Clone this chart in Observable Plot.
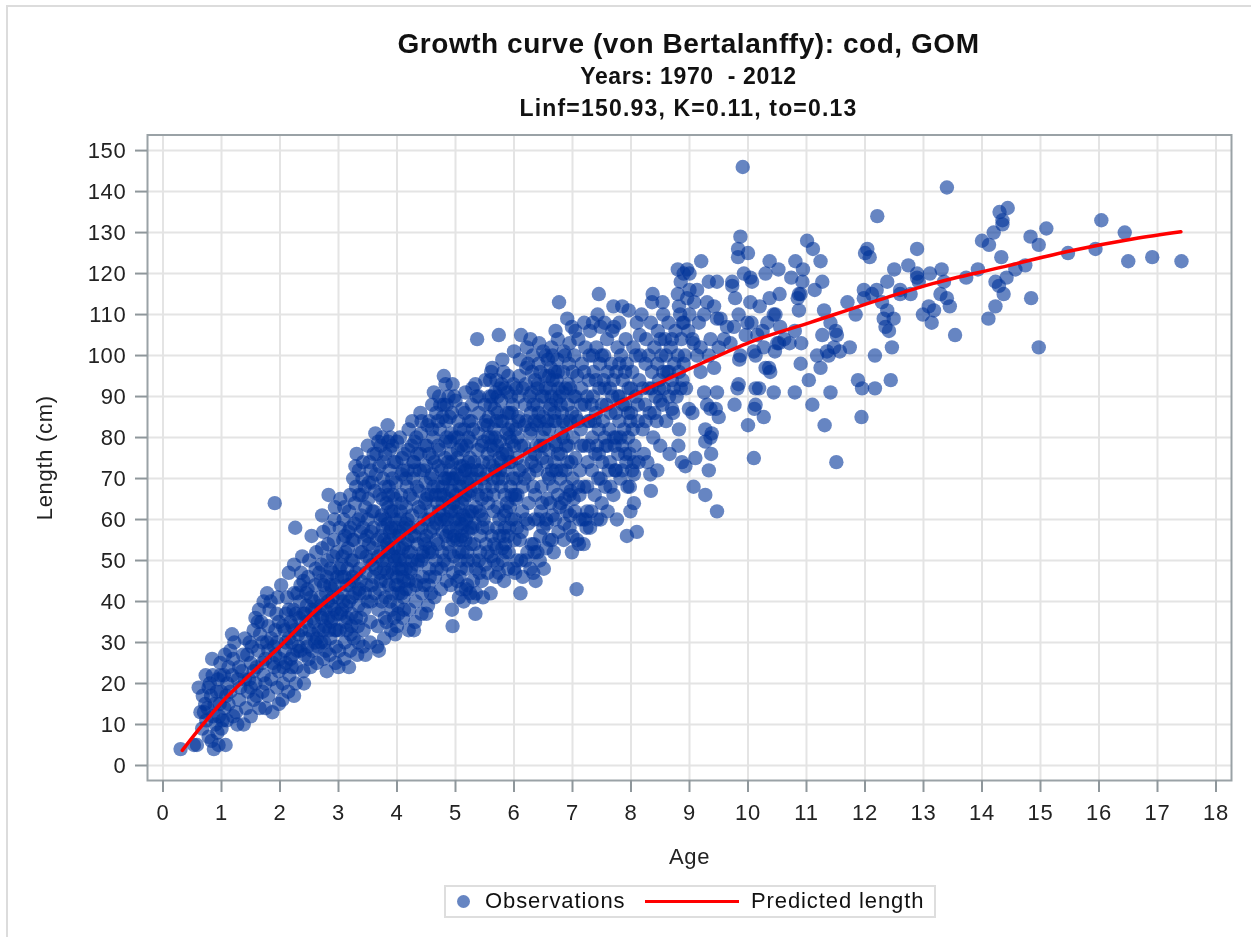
<!DOCTYPE html>
<html><head><meta charset="utf-8">
<script src="https://cdn.jsdelivr.net/npm/d3@7"></script>
<script src="https://cdn.jsdelivr.net/npm/@observablehq/plot@0.6"></script>
<style>
html,body{margin:0;padding:0;background:#fff;}
#page{position:relative;width:1251px;height:937px;overflow:hidden;font-family:"Liberation Sans",Arial,sans-serif;color:#111;filter:blur(.45px);}
#outer{position:absolute;left:6px;top:5px;width:1300px;height:1000px;border:2px solid #dcdcdc;box-sizing:border-box;}
.t{position:absolute;left:0;width:1377px;text-align:center;font-weight:bold;white-space:pre;}
#t1{top:28px;font-size:28px;letter-spacing:.55px;}
#t2{top:63px;font-size:23px;letter-spacing:.63px;}
#t3{top:95px;font-size:23px;letter-spacing:1.18px;}
#chart{position:absolute;left:0;top:124px;}
#legend{position:absolute;left:444px;top:885px;width:492px;height:33px;border:2px solid #dedede;box-sizing:border-box;font-size:22px;letter-spacing:.9px;color:#111;}
#legend span{position:absolute;display:block;}
#lg1{left:11px;top:8px;width:13px;height:13px;border-radius:50%;background:#003399;opacity:.6;}
#lg2{left:39px;top:1px;}
#lg3{left:199px;top:13px;width:94px;height:3px;background:#f00;}
#lg4{left:305px;top:1px;}
</style></head><body>
<div id="page">
<div id="outer"></div>
<div class="t" id="t1">Growth curve (von Bertalanffy): cod, GOM</div>
<div class="t" id="t2">Years: 1970  - 2012</div>
<div class="t" id="t3">Linf=150.93, K=0.11, to=0.13</div>
<div id="chart"></div>
<div id="legend"><span id="lg1"></span><span id="lg2">Observations</span><span id="lg3"></span><span id="lg4">Predicted length</span></div>
</div>
<script>
const ageTicks=[0,1,2,3,4,5,6,7,8,9,10,11,12,13,14,15,16,17,18];
const lengthTicks=[0,10,20,30,40,50,60,70,80,90,100,110,120,130,140,150];
const predictedAge=[0.33,0.64,1.01,1.32,1.98,2.64,3.26,3.6,5.09,6.28,7.48,8.28,9.19,10.04,11.07,12.38,13.17,14.32,15.46,16.6,17.4];
const predictedLength=[3.7,9.3,15.5,19.9,28.8,38.2,45.5,50,66.3,76.8,86.2,91.9,98,103.3,108.1,114.2,117.6,121.5,125.4,128.5,130.2];
// observations: flat age,length pairs
const obsAge0=[0.3,4,0.53,5,0.58,5,0.87,4,1.07,5,0.95,5,0.93,8,0.78,7,0.83,6,0.9,10,0.67,9,0.64,13,0.7,13,0.74,11,0.61,19,0.68,17,0.73,22,0.8,20,0.84,26,0.98,25,0.88,15,0.92,18,0.96,12,0.98,22,0.72,15,0.78,19,0.85,22,0.94,21,0.86,12,1.0,9,0.97,15,0.99,18,0.76,14,0.82,17];
const obsAge1=[1.02,11,1.05,14,1.08,17,1.1,20,1.12,24,1.15,28,1.18,32,1.04,22,1.06,27,1.09,11,1.12,15,1.15,18,1.18,22,1.2,26,1.22,30,1.25,13,1.27,10,1.3,16,1.32,19,1.35,23,1.37,27,1.4,31,1.38,10,1.42,14,1.45,18,1.47,21,1.5,25,1.52,29,1.55,33,1.5,12,1.55,16,1.58,20,1.6,24,1.63,28,1.64,38,1.66,32,1.68,35,1.65,14,1.7,18,1.72,22,1.75,14,1.75,26,1.78,30,1.78,42,1.8,34,1.82,38,1.8,17,1.85,21,1.87,13,1.88,25,1.9,29,1.91,64,1.92,33,1.94,37,1.96,41,1.95,19,1.98,15,1.98,23,1.2,12,1.28,21,1.48,30,1.62,35,1.72,40,1.84,40,1.92,27,1.7,30,1.58,36,1.44,27];
const obsAge2=[2.02,44,2.04,16,2.05,20,2.06,24,2.08,28,2.08,33,2.1,37,2.12,41,2.15,47,2.14,18,2.16,22,2.18,26,2.2,30,2.21,34,2.23,38,2.24,42,2.24,49,2.24,17,2.26,58,2.27,20,2.28,24,2.3,28,2.31,32,2.33,36,2.34,40,2.35,44,2.36,47,2.38,51,2.41,20,2.4,23,2.42,27,2.44,31,2.45,35,2.46,39,2.47,43,2.48,46,2.5,50,2.49,26,2.52,24,2.54,56,2.55,28,2.56,32,2.57,36,2.58,40,2.6,44,2.61,48,2.62,52,2.63,25,2.65,29,2.66,33,2.68,37,2.69,41,2.7,45,2.71,49,2.72,53,2.72,61,2.74,57,2.74,26,2.76,30,2.77,34,2.78,38,2.79,42,2.8,23,2.8,46,2.81,50,2.82,54,2.83,66,2.84,58,2.85,27,2.86,31,2.87,35,2.88,39,2.89,43,2.9,47,2.91,51,2.92,55,2.93,60,2.94,63,2.95,25,2.96,29,2.97,33,2.98,37,2.99,41,2.1,25,2.18,35,2.22,27,2.27,37,2.32,29,2.36,33,2.43,37,2.47,29,2.53,41,2.58,35,2.63,31,2.67,47,2.72,36,2.75,44,2.82,40,2.86,48,2.9,36,2.94,44,2.97,52,2.15,31,2.3,42,2.4,45,2.6,38,2.7,30,2.84,33,2.93,38];
const obsAge3=[3.0,24,3.03,65,3.01,28,3.02,33,3.04,37,3.05,42,3.06,46,3.07,51,3.08,55,3.09,60,3.1,26,3.11,30,3.12,35,3.13,39,3.14,44,3.15,48,3.16,53,3.17,57,3.18,24,3.18,62,3.2,28,3.21,32,3.22,37,3.23,41,3.24,46,3.25,50,3.26,31,3.26,55,3.27,59,3.28,64,3.29,73,3.31,76,3.3,68,3.32,27,3.33,34,3.34,39,3.35,43,3.36,48,3.37,52,3.38,57,3.39,61,3.4,66,3.41,70,3.42,29,3.43,33,3.44,38,3.45,42,3.46,27,3.47,47,3.48,51,3.49,56,3.5,60,3.51,65,3.52,69,3.53,74,3.54,30,3.55,35,3.56,40,3.57,44,3.58,49,3.59,53,3.6,58,3.61,62,3.62,67,3.63,81,3.64,71,3.65,76,3.66,29,3.67,34,3.68,38,3.69,28,3.7,43,3.71,47,3.72,78,3.72,52,3.73,56,3.74,61,3.75,65,3.76,70,3.77,74,3.78,31,3.79,36,3.8,41,3.81,45,3.82,50,3.83,54,3.84,83,3.84,59,3.85,63,3.86,68,3.87,72,3.88,77,3.89,80,3.9,33,3.91,38,3.92,42,3.93,47,3.94,51,3.95,56,3.96,60,3.97,32,3.97,65,3.98,69,3.99,74,3.05,49,3.12,52,3.18,44,3.24,55,3.3,47,3.36,42,3.42,58,3.48,44,3.54,50,3.6,46,3.66,55,3.72,60,3.78,48,3.84,53,3.9,58,3.96,50,3.08,40,3.15,36,3.22,50,3.28,42,3.34,60,3.4,52,3.46,63,3.52,54,3.58,62,3.64,48,3.7,66,3.76,58,3.82,64,3.88,55,3.94,62,3.02,58,3.11,56,3.2,58,3.38,45,3.5,40,3.62,42,3.74,40,3.86,44,3.98,44,3.44,55,3.56,57,3.68,51,3.8,68,3.92,70];
const obsAge4=[4.0,79,4.0,34,4.01,39,4.02,44,4.03,48,4.04,53,4.05,57,4.06,62,4.07,66,4.08,71,4.09,75,4.1,36,4.11,41,4.12,45,4.13,50,4.14,54,4.15,59,4.16,63,4.17,68,4.18,72,4.19,77,4.2,33,4.21,38,4.22,43,4.23,47,4.24,52,4.25,56,4.26,84,4.26,61,4.27,65,4.28,70,4.29,33,4.29,74,4.3,79,4.31,35,4.32,40,4.33,45,4.34,49,4.35,54,4.36,58,4.37,63,4.38,67,4.39,72,4.4,86,4.4,76,4.41,81,4.42,37,4.43,42,4.44,46,4.45,51,4.46,55,4.47,60,4.48,64,4.49,69,4.5,37,4.5,73,4.51,78,4.52,83,4.53,39,4.54,44,4.55,48,4.56,53,4.57,57,4.58,62,4.59,66,4.6,71,4.61,75,4.62,80,4.63,91,4.64,41,4.65,46,4.66,50,4.67,55,4.68,59,4.69,64,4.7,68,4.71,73,4.72,77,4.73,82,4.74,88,4.75,43,4.76,48,4.77,52,4.78,57,4.79,61,4.8,95,4.8,66,4.81,70,4.82,75,4.83,93,4.83,79,4.84,84,4.85,45,4.86,49,4.87,54,4.88,58,4.89,63,4.9,67,4.91,72,4.92,76,4.93,81,4.94,38,4.94,86,4.95,34,4.96,47,4.97,51,4.98,56,4.99,60,4.05,50,4.12,58,4.18,60,4.24,48,4.3,56,4.36,50,4.42,58,4.48,54,4.54,60,4.6,52,4.66,66,4.72,62,4.78,68,4.84,56,4.9,52,4.96,64,4.08,64,4.15,70,4.22,66,4.28,74,4.34,68,4.4,62,4.46,72,4.52,66,4.58,70,4.64,74,4.7,78,4.76,72,4.82,60,4.88,70,4.94,74,4.98,80,4.03,42,4.1,46,4.2,52,4.32,44,4.44,52,4.56,46,4.68,48,4.8,50,4.92,44,4.85,88,4.78,85,4.7,84,4.6,82,4.98,90,4.75,60,4.55,76,4.35,76];
const obsAge5=[5.0,89,5.0,62,5.01,66,5.02,71,5.03,75,5.04,80,5.05,84,5.06,41,5.07,46,5.08,50,5.09,55,5.1,59,5.11,64,5.12,68,5.13,73,5.14,40,5.14,77,5.15,82,5.16,86,5.17,91,5.18,43,5.19,48,5.2,52,5.21,57,5.22,61,5.23,66,5.24,70,5.25,75,5.26,79,5.27,84,5.28,88,5.29,92,5.3,45,5.31,50,5.32,54,5.33,59,5.34,37,5.34,93,5.35,63,5.36,68,5.37,104,5.37,72,5.38,77,5.39,81,5.4,86,5.41,47,5.42,52,5.43,56,5.44,61,5.45,65,5.46,70,5.47,41,5.47,74,5.48,79,5.49,83,5.5,88,5.51,49,5.52,54,5.53,66,5.54,71,5.55,76,5.56,80,5.57,85,5.58,90,5.59,94,5.6,42,5.61,51,5.62,56,5.63,97,5.63,68,5.64,73,5.65,77,5.66,82,5.67,87,5.68,91,5.69,46,5.7,53,5.71,58,5.72,63,5.73,70,5.74,105,5.74,47,5.75,75,5.76,79,5.77,84,5.78,89,5.79,93,5.8,99,5.81,50,5.82,56,5.83,45,5.83,61,5.84,66,5.85,72,5.86,77,5.87,81,5.88,86,5.89,91,5.9,95,5.91,52,5.92,58,5.93,63,5.94,68,5.95,74,5.96,79,5.97,83,5.98,88,5.99,93,5.03,55,5.06,60,5.08,70,5.1,78,5.12,52,5.15,65,5.18,72,5.2,44,5.22,80,5.25,58,5.28,62,5.3,82,5.32,74,5.35,48,5.38,66,5.4,90,5.42,72,5.45,78,5.48,60,5.5,68,5.52,84,5.55,47,5.58,74,5.6,88,5.62,80,5.65,66,5.68,72,5.7,84,5.72,90,5.75,60,5.78,68,5.8,76,5.82,96,5.85,54,5.88,64,5.9,82,5.92,74,5.95,90,5.98,70,5.03,45,5.06,52,5.09,48,5.12,58,5.17,55,5.21,50,5.26,54,5.31,70,5.36,90,5.41,62,5.46,58,5.51,94,5.56,64,5.61,96,5.66,54,5.71,78,5.76,92,5.81,70,5.86,62,5.91,86,5.96,66];
const obsAge6=[6.0,101,6.0,48,6.02,47,6.01,55,6.02,60,6.03,65,6.04,70,6.05,75,6.06,80,6.07,85,6.08,90,6.09,95,6.1,99,6.11,42,6.12,105,6.12,50,6.13,57,6.14,62,6.15,68,6.16,73,6.17,78,6.18,83,6.19,88,6.2,93,6.21,97,6.22,102,6.23,52,6.24,59,6.25,64,6.26,71,6.27,76,6.28,104,6.28,81,6.29,86,6.3,91,6.31,96,6.32,100,6.33,47,6.34,54,6.35,60,6.36,66,6.37,45,6.37,73,6.38,78,6.39,83,6.4,88,6.41,93,6.42,98,6.43,103,6.44,50,6.45,56,6.46,62,6.47,68,6.48,75,6.49,80,6.5,85,6.51,48,6.52,90,6.53,95,6.54,100,6.55,53,6.56,59,6.57,65,6.58,71,6.59,77,6.6,82,6.61,87,6.62,92,6.63,97,6.64,102,6.65,55,6.66,61,6.67,68,6.68,52,6.69,74,6.7,79,6.71,106,6.71,84,6.72,89,6.73,94,6.74,99,6.75,104,6.76,57,6.77,113,6.78,63,6.79,70,6.8,76,6.81,81,6.82,86,6.83,91,6.84,96,6.85,101,6.86,59,6.87,65,6.88,72,6.89,78,6.9,83,6.91,109,6.92,88,6.93,93,6.94,98,6.95,103,6.96,61,6.97,67,6.98,74,6.99,52,6.99,107,6.03,82,6.06,66,6.09,72,6.12,78,6.15,92,6.18,70,6.21,84,6.24,98,6.27,90,6.3,74,6.33,68,6.36,94,6.39,72,6.42,86,6.45,96,6.48,64,6.51,78,6.54,92,6.57,84,6.6,70,6.63,88,6.66,100,6.69,86,6.72,72,6.75,96,6.78,90,6.81,72,6.84,84,6.87,100,6.9,68,6.93,78,6.96,92,6.99,86,6.05,58,6.2,60,6.35,52,6.5,58,6.65,72,6.8,64,6.95,58];
const obsAge7=[7.0,56,7.0,70,7.01,80,7.02,90,7.03,100,7.04,62,7.05,75,7.07,43,7.06,85,7.08,95,7.1,104,7.11,54,7.12,66,7.13,72,7.14,82,7.15,92,7.16,98,7.18,60,7.19,54,7.2,78,7.21,88,7.22,102,7.24,58,7.25,68,7.26,74,7.27,84,7.28,94,7.29,100,7.3,106,7.32,62,7.33,72,7.34,80,7.35,90,7.36,96,7.38,66,7.39,76,7.4,86,7.41,102,7.43,110,7.42,60,7.44,70,7.45,115,7.45,82,7.46,92,7.47,98,7.48,107,7.48,60,7.5,64,7.51,74,7.52,84,7.53,94,7.54,100,7.56,68,7.57,78,7.58,88,7.59,104,7.6,62,7.62,72,7.63,82,7.64,92,7.65,68,7.66,98,7.68,106,7.7,66,7.71,107,7.71,80,7.73,72,7.74,72,7.74,86,7.75,96,7.76,60,7.77,102,7.78,76,7.8,84,7.81,90,7.82,70,7.83,100,7.85,112,7.85,78,7.86,94,7.88,82,7.9,88,7.91,104,7.92,74,7.93,56,7.93,98,7.95,80,7.96,111,7.96,92,7.98,68,7.99,62,7.99,84];
const obsAge8=[8.02,72,8.05,74,8.13,74,8.05,71,8.05,64,8.0,86,8.02,96,8.04,102,8.06,78,8.08,90,8.1,108,8.1,57,8.12,84,8.14,94,8.16,100,8.18,110,8.2,82,8.22,76,8.24,88,8.25,98,8.26,104,8.28,74,8.3,92,8.32,86,8.33,71,8.34,67,8.34,108,8.36,96,8.38,80,8.37,115,8.36,113,8.4,102,8.42,90,8.44,84,8.45,72,8.46,106,8.48,94,8.5,78,8.52,100,8.54,113,8.54,88,8.55,110,8.56,92,8.58,104,8.6,84,8.62,96,8.64,108,8.65,90,8.66,76,8.68,102,8.7,94,8.72,86,8.74,98,8.76,106,8.78,90,8.8,100,8.82,112,8.82,96,8.84,110,8.86,104,8.88,94,8.9,108,8.92,100,8.94,92,8.96,114,8.98,106,8.8,121,8.96,121,8.9,120,8.85,118,8.8,115,8.82,82,8.81,78,8.87,74,8.93,73,8.99,87,8.73,92,8.85,92,8.7,87,8.5,89,8.48,92,8.9,98,8.88,108];
const obsAge9=[9.0,120,9.0,116,9.13,116,9.42,112,9.47,109,9.76,107,9.96,105,9.7,103,9.42,97,9.19,102,9.07,103,9.36,104,9.59,104,9.53,109,9.25,110,9.99,108,9.84,110,9.64,107,9.3,113,9.0,110,9.05,104,9.13,100,9.19,96,9.25,91,9.08,113,9.16,108,9.33,100,9.5,102,9.2,123,9.33,118,9.47,118,9.73,118,9.73,117,9.78,114,9.91,146,9.87,129,9.83,126,9.83,124,9.93,120,9.85,99,9.87,100,9.82,92,9.84,93,9.47,91,9.77,88,9.36,87,9.45,87,9.5,85,9.3,88,9.05,86,9.27,82,9.38,81,9.36,80,9.27,79,9.37,76,9.1,75,9.33,72,9.07,68,9.27,66,9.47,62];
const obsAge10=[10.0,125,10.04,119,10.07,118,10.37,123,10.52,121,10.3,120,10.04,113,10.2,112,10.37,114,10.54,115,10.44,110,10.47,110,10.33,108,10.55,107,10.8,106,10.71,103,10.91,103,10.53,103,10.5,103,10.46,101,10.27,102,10.13,100,10.36,97,10.3,97,10.38,96,10.9,98,10.44,91,10.8,91,10.13,92,10.19,92,10.13,88,10.11,87,10.27,85,10,83,10.1,75,10.81,123,10.94,121,10.74,119,10.93,118,10.9,115,10.87,115,10.85,114,10.87,111,10.06,108,10.16,105,10.25,106,10.62,104,10.1,101];
const obsAge11=[11.01,128,11.11,126,11.24,123,11.27,118,11.14,116,11.3,111,11.27,105,11.41,108,11.5,106,11.52,105,11.7,113,11.84,110,11.74,102,11.57,101,11.47,102,11.35,101,11.38,100,11.18,100,11.24,97,11.04,94,11.41,91,11.1,88,11.31,83,11.51,74,11.88,94,11.95,92,11.94,85,11.98,116,11.98,114];
const obsAge12=[12.04,126,12.0,125,12.08,124,12.21,134,12.89,126,12.5,121,12.74,122,12.89,120,12.89,119,12.2,116,12.38,118,12.6,116,12.78,115,12.29,113,12.38,111,12.32,109,12.49,109,12.35,107,12.41,106,12.46,102,12.17,100,12.44,94,12.17,92,12.92,118,12.99,110,12.6,115,12.12,115];
const obsAge13=[13.4,141,13.11,120,13.31,121,13.09,112,13.18,111,13.14,108,13.54,105,13.93,121,13.73,119,13.35,118,13.29,115,13.4,114,13.45,112];
const obsAge14=[14.3,135,14.44,136,14.35,133,14.35,132,14.2,130,14.0,128,14.12,127,14.83,129,14.97,127,14.33,124,14.74,122,14.57,121,14.42,119,14.23,118,14.29,117,14.37,115,14.23,112,14.11,109,14.84,114,14.97,102];
const obsAge15=[15.1,131,15.47,125,15.94,126,16.04,133,16.44,130,16.5,123,16.91,124,17.41,123];
const obsDense=[5.02,58,5.05,63,5.07,68,5.09,73,5.11,56,5.13,61,5.16,66,5.18,60,5.2,69,5.22,74,5.24,62,5.26,67,5.04,77,5.08,82,5.12,87,5.16,72,5.19,78,5.23,84,5.27,72,5.29,58,4.86,60,4.88,65,4.9,57,4.92,62,4.94,67,4.96,55,4.98,70,4.87,74,4.91,79,4.95,70,3.72,45,3.75,50,3.78,55,3.8,60,3.83,47,3.86,52,3.88,57,3.9,62,3.92,48,3.95,53,3.98,58,4.0,46,4.02,51,4.04,56,4.06,60,4.08,48,4.1,53,4.12,38,4.15,48,4.18,55,4.2,45,4.22,58,4.25,50,3.82,35,3.88,40,3.95,36,4.02,37,4.08,42,4.15,43,6.3,82,6.33,88,6.36,76,6.4,92,6.44,84,6.48,90,6.52,82,6.56,74,6.6,95,6.64,90,6.68,84,6.72,78,6.76,92,6.8,88,6.84,80,6.88,92,6.92,74,6.96,84,6.75,76,6.7,96,6.66,94,6.58,99,6.5,101,6.45,78,6.35,84,2.7,39,2.74,33,2.78,28,2.82,36,2.86,44,2.9,41,2.94,33,2.98,46,3.02,48,3.06,38,3.1,46,3.14,33,3.18,40,3.22,34,3.26,45,3.3,36,3.34,30,3.38,36,4.42,50,4.46,44,4.5,56,4.54,52,4.58,42,4.62,58,4.66,60,4.7,54,4.74,66,4.78,64,4.82,70,4.5,65,4.62,68,5.55,83,5.6,78,5.64,70,5.68,80,5.72,86,5.76,72,5.8,84,5.84,92,5.88,76,5.92,80,5.96,86,6.0,78,6.04,92,6.08,84,5.62,90,5.7,94,5.78,74,5.84,58,5.9,56,5.96,60,6.02,66,1.3,24,1.4,21,1.5,19,1.55,23,1.6,17,1.7,25,1.75,20,1.8,28,1.85,31,1.9,24,1.95,30,1.98,35,2.0,26,2.05,34,2.1,30,2.15,38,2.2,24,2.25,33,2.35,28,2.4,37,2.45,42,2.5,33,2.55,38,2.6,30,7.05,90,7.1,84,7.15,78,7.2,68,7.25,90,7.3,84,7.35,100,7.4,94,7.45,76,7.5,88,7.55,92,7.6,78,7.65,86,7.7,94,7.75,80,7.8,98,7.85,72,7.9,76,7.95,86,8.0,92,7.22,60,7.3,58,7.12,60,7.02,65,7.08,55];
const obsEdge=[3.1,63,3.2,66,3.25,70,3.35,72,3.42,74,3.5,78,3.55,72,3.6,76,3.68,79,3.75,80,3.8,76,3.85,79,3.92,78,3.95,74,3.35,66,3.45,68,3.58,69,3.7,73,3.85,66,3.93,66,4.05,80,4.12,76,4.2,82,4.25,78,4.33,80,4.42,84,4.48,78,4.55,84,4.6,88,4.67,86,4.72,90,4.8,88,4.88,90,4.95,93,4.9,85,4.85,80,4.1,72,4.3,72,5.1,43,5.25,42,5.35,42,5.45,45,5.55,52,5.65,50,5.72,49,5.8,53,5.9,48,5.65,62,5.75,56,5.85,52,5.55,58,5.3,41,5.4,50,6.1,55,6.2,50,6.3,54,6.4,52,6.55,60,6.6,55,6.7,60,6.75,66,6.85,55,6.9,62,6.95,66,6.05,50,6.15,46,6.28,48,6.42,60,6.62,64,7.1,68,7.15,88,7.2,96,7.25,62,7.28,78,7.33,88,7.38,84,7.42,78,7.48,70,7.5,100,7.55,80,7.6,96,7.64,74,7.68,90,7.72,78,7.78,90,7.82,80,7.86,88,7.9,96,7.94,68,7.98,76,8.03,82,8.08,100,8.12,88,8.15,105,8.2,92,8.25,84,8.3,100,8.35,92,8.4,86,8.45,98,8.5,104,8.55,96,8.6,100,8.65,96,8.7,104,7.0,96,7.05,106,7.2,108,7.35,108,7.55,108,7.7,112,7.8,108];
const obsBands=[obsAge0,obsAge1,obsAge2,obsAge3,obsAge4,obsAge5,obsAge6,obsAge7,obsAge8,obsAge9,obsAge10,obsAge11,obsAge12,obsAge13,obsAge14,obsAge15,obsDense,obsEdge];
const observations=obsBands.flatMap(b=>d3.range(0,b.length,2).map(i=>({age:b[i],length:b[i+1]})));
const predicted=predictedAge.map((a,i)=>({age:a,length:predictedLength[i]}));

const chart=Plot.plot({
  width:1251,height:716,marginLeft:147,marginRight:20,marginTop:10.5,marginBottom:60,
  style:{background:"transparent",fontFamily:"'Liberation Sans',Arial,sans-serif",fontSize:"22px",color:"#222",overflow:"visible",letterSpacing:".7px"},
  x:{domain:[-0.265,18.265]},
  y:{domain:[-3.66,153.8]},
  marks:[
    Plot.gridX(ageTicks,{stroke:"#e4e4e4",strokeOpacity:1,strokeWidth:2}),
    Plot.gridY(lengthTicks,{stroke:"#e4e4e4",strokeOpacity:1,strokeWidth:2}),
    Plot.dot(observations,{x:"age",y:"length",r:7.2,fill:"#003399",fillOpacity:.6,stroke:"none"}),
    Plot.line(predicted,{x:"age",y:"length",stroke:"#f00",strokeWidth:3.5,curve:"monotone-x"}),
    Plot.frame({stroke:"#9aa2a6",strokeWidth:2}),
    Plot.axisX(ageTicks,{tickSize:12,tickPadding:12,stroke:"#8f979b",strokeWidth:2,fontSize:22,label:null,tickFormat:d=>String(d)}),
    Plot.axisY(lengthTicks,{tickSize:12,tickPadding:9,stroke:"#8f979b",strokeWidth:2,fontSize:22,label:null,tickFormat:d=>String(d)}),
    Plot.text(["Age"],{frameAnchor:"bottom",dy:83,fontSize:22,fill:"#222"}),
    Plot.text(["Length (cm)"],{frameAnchor:"left",textAnchor:"middle",dx:-103,rotate:-90,fontSize:22,fill:"#222"})
  ]
});
document.getElementById("chart").appendChild(chart);
</script>
</body></html>
